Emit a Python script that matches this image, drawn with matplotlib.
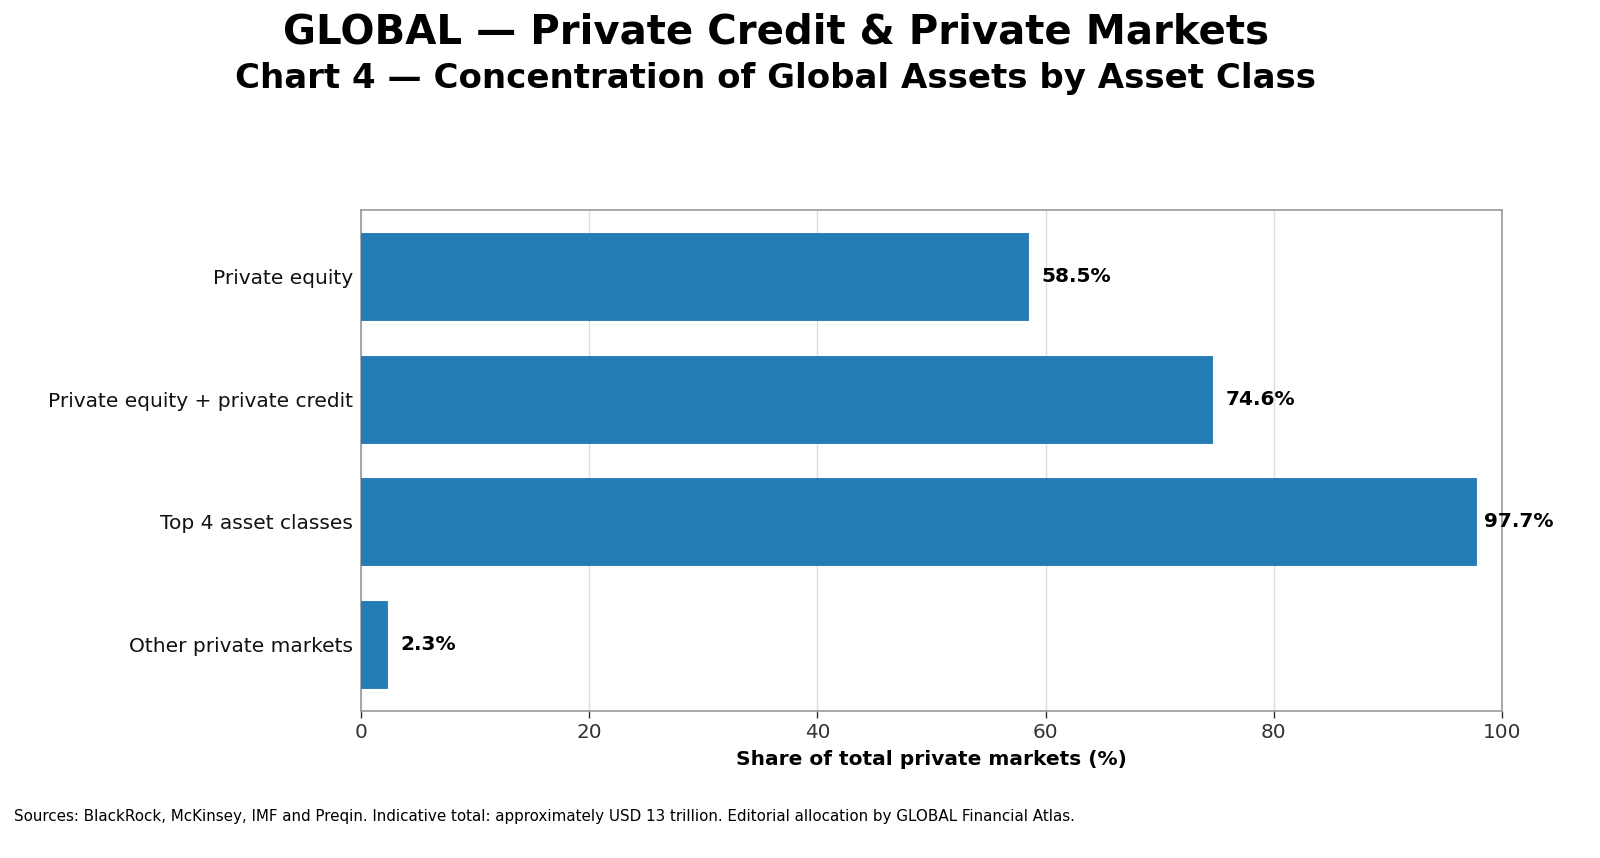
import matplotlib
matplotlib.use('Agg')
import matplotlib.pyplot as plt

categories = ['Private equity', 'Private equity + private credit',
              'Top 4 asset classes', 'Other private markets']
shares = [58.5, 74.6, 97.7, 2.3]
x_ticks = [0, 20, 40, 60, 80, 100]

title = 'GLOBAL — Private Credit & Private Markets'
subtitle = 'Chart 4 — Concentration of Global Assets by Asset Class'
x_label = 'Share of total private markets (%)'
source = ('Sources: BlackRock, McKinsey, IMF and Preqin. Indicative total: '
          'approximately USD 13 trillion. Editorial allocation by GLOBAL Financial Atlas.')

plt.rcParams['font.family'] = ['DejaVu Sans']

fig = plt.figure(figsize=(16, 8.58), dpi=100)
ax = fig.add_axes([0.2256, 0.1713, 0.7131, 0.5839])

y = list(range(len(categories)))
ax.barh(y, shares, height=0.71, color='#247db5', edgecolor='#1f77b4',
        linewidth=0.6, zorder=3)
ax.invert_yaxis()
ax.set_yticks(y)
ax.set_yticklabels(categories, fontsize=14.5)
ax.set_xlim(0, 100)
ax.set_xticks(x_ticks)
ax.tick_params(axis='x', labelsize=14.4, colors='#333333', length=5, width=1)
ax.tick_params(axis='y', length=0, pad=6, labelcolor='#111111')
ax.xaxis.grid(True, color='#d5dfe9', linewidth=1, zorder=0)
ax.set_axisbelow(True)
for s in ax.spines.values():
    s.set_color('#9a9a9a')
    s.set_linewidth(1.2)

ax.set_xlabel(x_label, fontsize=14.5, fontweight='bold', labelpad=6)

for yi, v in zip(y, shares):
    xpos = v + 1.15 if v < 95 else v + 0.7
    ax.text(xpos, yi, '{:.1f}%'.format(v), va='center', ha='left',
            fontsize=14.5, fontweight='bold', clip_on=False)

fig.text(0.4847, 0.962, title, ha='center', va='center',
         fontsize=29, fontweight='bold')
fig.text(0.4847, 0.908, subtitle, ha='center', va='center',
         fontsize=24.5, fontweight='bold')
fig.text(0.009, 0.048, source, ha='left', va='center', fontsize=10.9)

fig.savefig('out.png', dpi=100)
